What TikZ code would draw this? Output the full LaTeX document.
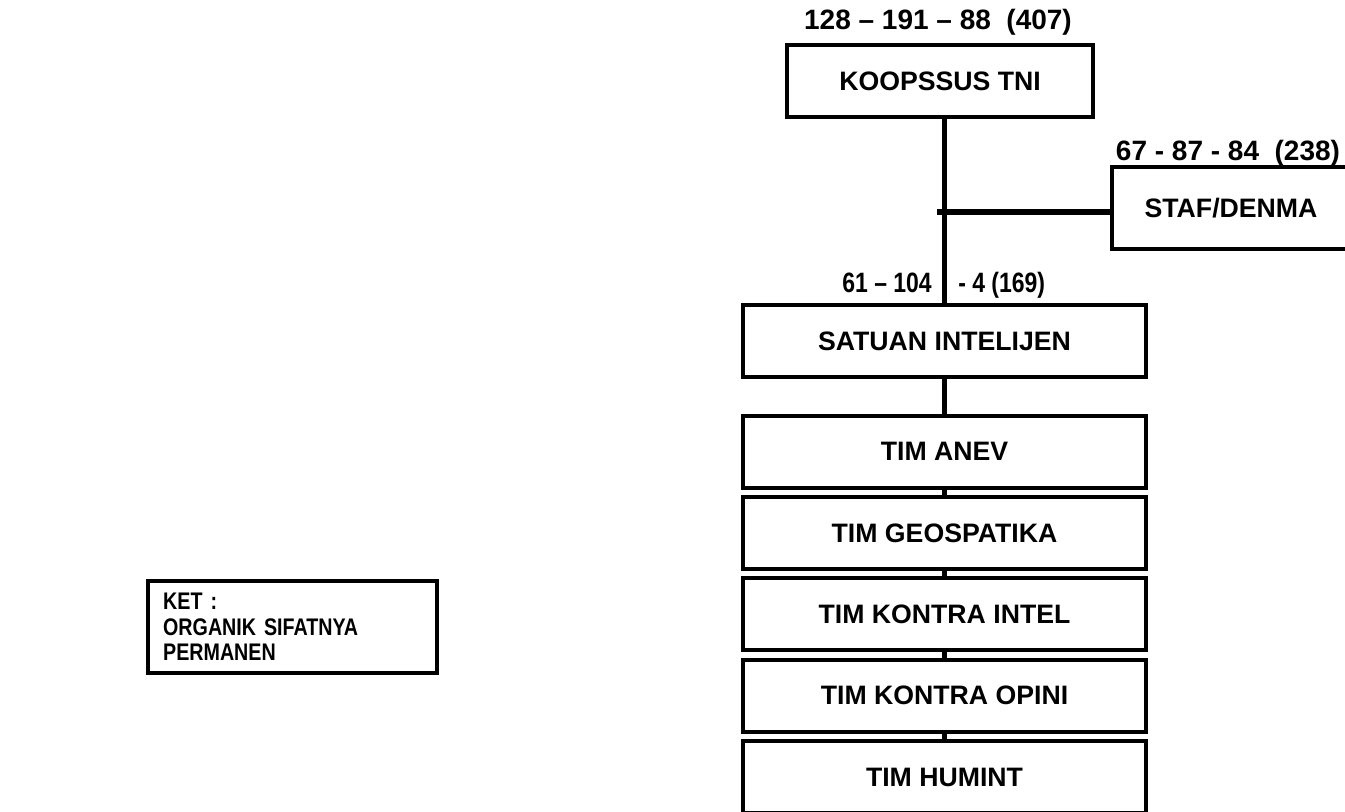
\documentclass[tikz,border=0pt]{standalone}
\usepackage{fontspec}
\setmainfont{Liberation Sans}
\newfontfamily\narrowfont[FakeStretch=0.82]{Liberation Sans}
\usepackage{tikz}
\usetikzlibrary{positioning, calc}
\tikzset{
  unit/.style={
    draw=black, line width=3pt, fill=white,
    minimum width=302pt, minimum height=54pt,
    outer sep=0pt, inner sep=0pt,
    align=center, font=\fontsize{20}{24}\selectfont\bfseries
  },
  ketbox/.style={
    draw=black, line width=3pt,
    minimum width=216.75pt, minimum height=69pt,
    outer sep=0pt, inner xsep=11pt, text width=194pt,
    align=left, font=\narrowfont\fontsize{18}{19}\selectfont\bfseries
  },
  numlabel/.style={inner sep=0pt, font=\fontsize{21}{25}\selectfont\bfseries},
  numnarrow/.style={inner sep=0pt, font=\narrowfont\fontsize{21}{25}\selectfont\bfseries},
  conn/.style={line width=4pt, color=black}
}
\begin{document}
\begin{tikzpicture}[x=0.75pt, y=-0.75pt, node distance=7pt]
  \clip (0,0) rectangle (1345,812);

  % Blocks
  \node[unit, minimum width=229pt] (koop) at (940,81) {KOOPSSUS TNI};
  \node[unit, minimum width=178.5pt, minimum height=61.5pt] (staf) at (1231,208) {STAF/DENMA};
  \node[unit] (sat) at (944.5,341) {SATUAN INTELIJEN};
  \node[unit, below=29pt of sat] (anev) {TIM ANEV};
  \node[unit, below=of anev] (geo) {TIM GEOSPATIKA};
  \node[unit, below=of geo] (kintel) {TIM KONTRA INTEL};
  \node[unit, below=of kintel] (kopini) {TIM KONTRA OPINI};
  \node[unit, below=of kopini] (humint) {TIM HUMINT};

  % Strength labels
  \node[numlabel] (koopnum) at (938,22) {128 – 191 – 88\ \ (407)};
  \node[numlabel] (stafnum) at (1228,153) {67 - 87 - 84\ \ (238)};
  \node[numnarrow, anchor=base east] (satnuma) at (932,293) {61 – 104};
  \node[numnarrow, anchor=base west] (satnumb) at (958,293) {- 4 (169)};

  % Lines
  \coordinate (branch) at (937,212);
  \draw[conn] (koop.south -| sat.north) -- (sat.north);
  \draw[conn] (branch) -- (branch -| staf.west);
  \foreach \a/\b in {sat/anev, anev/geo, geo/kintel, kintel/kopini, kopini/humint}
    \draw[conn] (\a.south) -- (\b.north);

  % Note
  \node[ketbox] (ket) at (292.5,627) {KET :\\ORGANIK SIFATNYA\\PERMANEN};
\end{tikzpicture}
\end{document}
